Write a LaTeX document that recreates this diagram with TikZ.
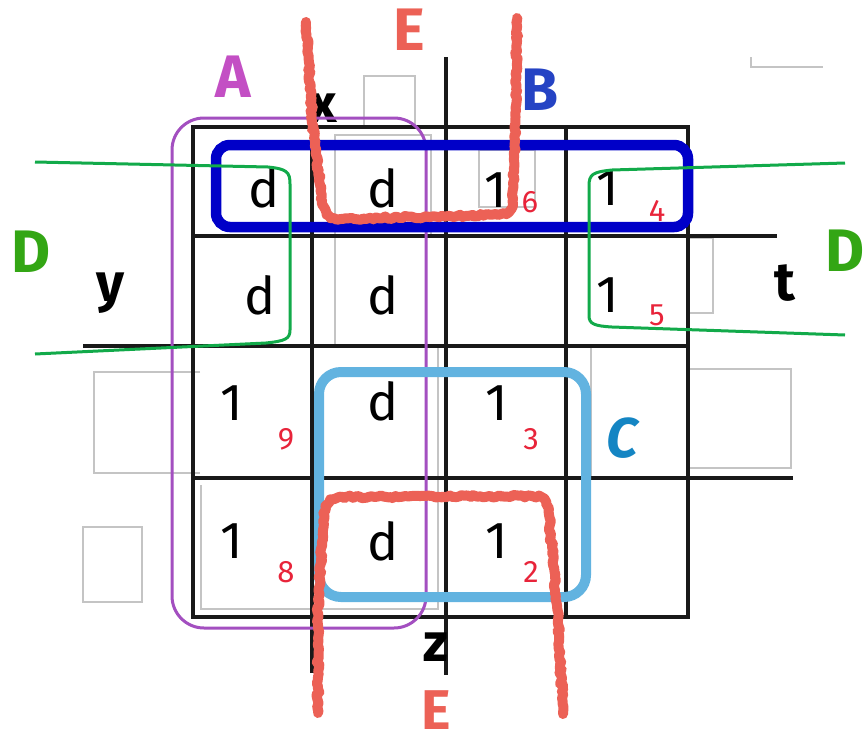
\documentclass[tikz,border=0pt]{standalone}
\usepackage{fontspec}
\setmainfont{Fira Sans}
\usetikzlibrary{decorations.pathmorphing}
\definecolor{cA}{HTML}{A34FC0}
\definecolor{cAt}{HTML}{C34FC4}
\definecolor{cB}{HTML}{0000C8}
\definecolor{cBt}{HTML}{2543C4}
\definecolor{cC}{HTML}{62B3E0}
\definecolor{cCt}{HTML}{1485C3}
\definecolor{cD}{HTML}{12AA4A}
\definecolor{cDt}{HTML}{33A614}
\definecolor{cE}{HTML}{EC6156}
\definecolor{cnum}{HTML}{E8243A}
\definecolor{ghost}{HTML}{C4C4C4}
\begin{document}
\begin{tikzpicture}[x=1pt,y=-1pt,
  gridline/.style={line width=3.5pt, draw=black!90},
  ghostbox/.style={draw=ghost, line width=1.2pt},
  val/.style={font=\fontsize{52}{52}\selectfont, inner sep=0pt},
  idx/.style={font=\fontsize{31}{31}\selectfont, text=cnum, inner sep=0pt},
  var/.style={font=\bfseries\fontsize{54}{54}\selectfont, inner sep=0pt},
  grp/.style={font=\bfseries\fontsize{60}{60}\selectfont, inner sep=0pt},
  rough/.style={draw=cE, line width=10pt, line cap=round, line join=round,
    decorate, decoration={random steps, segment length=3pt, amplitude=1.4pt}},
]
\useasboundingbox (0,0) rectangle (867,744);
\fill[white] (0,0) rectangle (867,744);

% faint ghost boxes
\draw[ghostbox] (364,127) -- (364,76) -- (415,76) -- (415,127);
\draw[ghostbox] (335,345) -- (335,135) -- (431,135) -- (431,236);
\draw[ghostbox] (479,150) rectangle (535,207);
\draw[ghostbox] (751,57) -- (751,67) -- (823,67);
\draw[ghostbox] (689,238) -- (713,238) -- (713,313) -- (689,313);
\draw[ghostbox] (200,372) -- (94,372) -- (94,473) -- (200,473);
\draw[ghostbox] (689,369) -- (791,369) -- (791,468) -- (689,468);
\draw[ghostbox] (83,527) rectangle (142,602);
\draw[ghostbox] (201,485) -- (201,609) -- (438,609) -- (438,348);
\draw[ghostbox] (591,348) -- (591,478);

% grid
\draw[gridline] (193,127) rectangle (688,617);
\draw[gridline] (193,236) -- (777,236);
\draw[gridline] (83,346) -- (688,346);
\draw[gridline] (193,478) -- (793,478);
\draw[gridline] (312,127) -- (312,673);
\draw[gridline] (446,57) -- (446,675);
\draw[gridline] (566,127) -- (566,617);

% cell values
\node[val] (v11) at (264,188) {d};
\node[val] (v12) at (383,188) {d};
\node[val] (v13) at (496,190) {1};
\node[val] (v14) at (608,188) {1};
\node[val] (v21) at (260,295) {d};
\node[val] (v22) at (383,295) {d};
\node[val] (v24) at (608,295) {1};
\node[val] (v31) at (232,403) {1};
\node[val] (v32) at (383,401) {d};
\node[val] (v33) at (497,403) {1};
\node[val] (v41) at (232,541) {1};
\node[val] (v42) at (383,541) {d};
\node[val] (v43) at (497,541) {1};

% cell indices
\node[idx] (n6) at (530,202) {6};
\node[idx] (n4) at (657,211) {4};
\node[idx] (n5) at (657,315) {5};
\node[idx] (n9) at (286,439) {9};
\node[idx] (n3) at (531,439) {3};
\node[idx] (n8) at (286,572) {8};
\node[idx] (n2) at (531,572) {2};

% variable labels
\node[var] (lx) at (323,108) {x};
\node[var] (ly) at (110,293) {y};
\node[var] (lt) at (785,283) {t};
\node[var] (lz) at (436,647) {z};

% loop A
\draw[draw=cA, line width=3pt, rounded corners=32pt] (172,118) rectangle (426,628);
% loop B
\draw[draw=cB, line width=10.5pt, rounded corners=14pt] (216,145) rectangle (688,227);
% loop C
\draw[draw=cC, line width=10pt, rounded corners=22pt] (319,372) rectangle (586,597);

% loop D (left and right halves)
\draw[draw=cD, line width=3pt]
  (35,162) -- (268,167) .. controls (287,169) and (290,172) .. (290,184)
  -- (290,330) .. controls (290,339) and (285,341) .. (266,343) -- (35,354);
\draw[draw=cD, line width=3pt]
  (845,163) -- (612,170) .. controls (593,172) and (589,174) .. (589,186)
  -- (589,316) .. controls (589,324) and (595,326) .. (612,327) -- (845,335);

% loop E (top and bottom halves)
\draw[rough] (306,22) -- (312,120) -- (322,200)
  .. controls (325,214) and (327,219) .. (340,219)
  -- (498,215) .. controls (510,214) and (513,210) .. (513,198)
  -- (516,110) -- (517,18);
\draw[rough] (318,713) -- (318,600) -- (323,530)
  .. controls (325,500) and (328,497) .. (345,497)
  -- (532,496) .. controls (545,496) and (547,500) .. (549,515)
  -- (558,620) -- (563,714);

% group labels
\node[grp, text=cAt] (gA) at (233,77) {A};
\node[grp, text=cBt] (gB) at (540,90) {B};
\node[grp, text=cCt, font=\bfseries\itshape\fontsize{56}{56}\selectfont] (gC) at (622,438) {C};
\node[grp, text=cDt] (gD1) at (31,252) {D};
\node[grp, text=cDt] (gD2) at (845,251) {D};
\node[grp, text=cE] (gE1) at (409,30) {E};
\node[grp, text=cE, font=\bfseries\fontsize{56}{56}\selectfont] (gE2) at (436,710) {E};
\end{tikzpicture}
\end{document}
